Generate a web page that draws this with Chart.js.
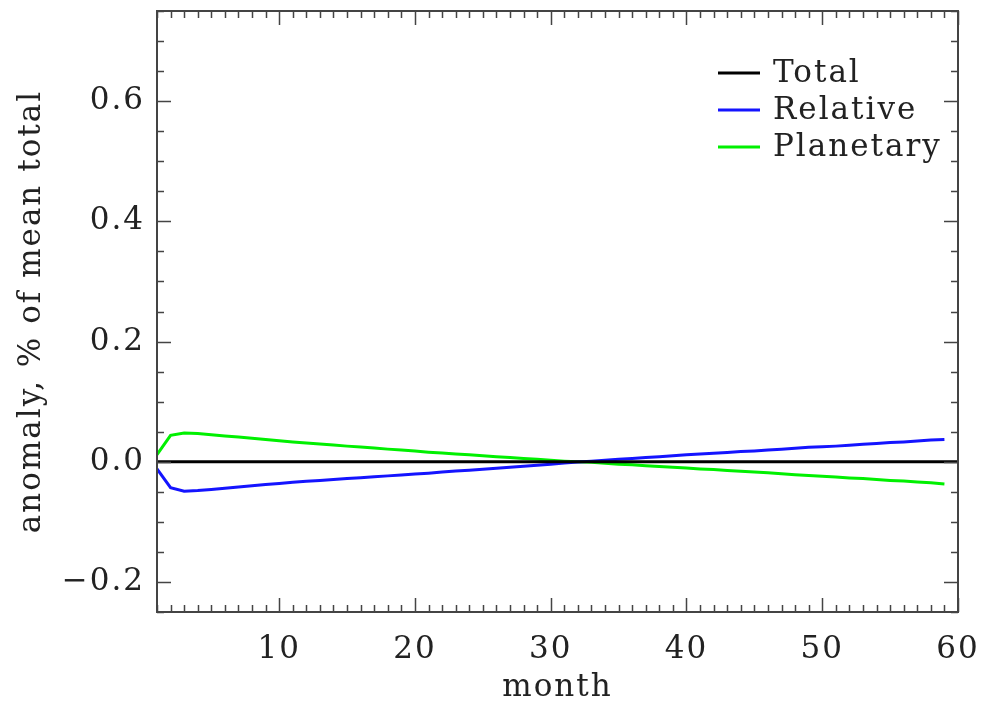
<!DOCTYPE html>
<html>
<head>
<meta charset="utf-8">
<script src="https://cdn.jsdelivr.net/npm/chart.js@4.4.0/dist/chart.umd.min.js"></script>
<style>
  html, body { margin: 0; padding: 0; background: #fff; }
  canvas { display: block; }
</style>
</head>
<body>
<canvas id="chart" width="981" height="704"></canvas>
<script>
// months 1..59 for the two components, total runs to 60
var months = [1,2,3,4,5,6,7,8,9,10,11,12,13,14,15,16,17,18,19,20,
  21,22,23,24,25,26,27,28,29,30,31,32,33,34,35,36,37,38,39,40,
  41,42,43,44,45,46,47,48,49,50,51,52,53,54,55,56,57,58,59,60];

var total = [0,0,0,0,0,0,0,0,0,0,0,0,0,0,0,0,0,0,0,0,
  0,0,0,0,0,0,0,0,0,0,0,0,0,0,0,0,0,0,0,0,
  0,0,0,0,0,0,0,0,0,0,0,0,0,0,0,0,0,0,0,0];

var relative = [-0.012,-0.043,-0.049,-0.048,-0.046,-0.044,-0.042,-0.040,-0.038,-0.036,
  -0.034,-0.0325,-0.031,-0.0295,-0.028,-0.0265,-0.025,-0.0235,-0.022,-0.0205,
  -0.019,-0.017,-0.0155,-0.014,-0.0125,-0.011,-0.009,-0.0075,-0.006,-0.004,
  -0.002,-0.0005,0.001,0.0025,0.004,0.0055,0.007,0.0085,0.010,0.0115,
  0.013,0.014,0.0155,0.017,0.018,0.0195,0.021,0.0225,0.024,0.025,
  0.026,0.0275,0.029,0.0305,0.032,0.033,0.0345,0.036,0.037];

var planetary = [0.012,0.044,0.048,0.047,0.045,0.043,0.041,0.039,0.037,0.035,
  0.033,0.031,0.0295,0.028,0.026,0.0245,0.023,0.021,0.0195,0.018,
  0.016,0.0145,0.013,0.0115,0.010,0.0085,0.007,0.0055,0.004,0.0025,
  0.001,0.0,-0.001,-0.0025,-0.004,-0.005,-0.0065,-0.008,-0.009,-0.0105,
  -0.012,-0.013,-0.0145,-0.016,-0.017,-0.0185,-0.020,-0.0215,-0.023,-0.024,
  -0.0255,-0.027,-0.028,-0.0295,-0.031,-0.032,-0.0335,-0.035,-0.037];

var xTicks = [10, 20, 30, 40, 50, 60];
var yTicks = [-0.2, 0.0, 0.2, 0.4, 0.6];

var FONT = 'DejaVu Serif';
var FSIZE = 31;
var SPACING = '2px';

function pts(ys) {
  return ys.map(function(y, i) { return {x: months[i], y: y}; });
}

// IDL style frame with inward ticks on all four sides
var frame = {
  id: 'frame',
  beforeLayout: function(chart) { chart.ctx.letterSpacing = SPACING; },
  beforeDraw: function(chart) { chart.ctx.letterSpacing = SPACING; },
  afterDraw: function(chart) {
    var ctx = chart.ctx, a = chart.chartArea;
    var xs = chart.scales.x, ys = chart.scales.y;
    ctx.save();
    ctx.strokeStyle = '#444';
    ctx.lineWidth = 2;
    ctx.strokeRect(a.left, a.top, a.right - a.left, a.bottom - a.top);
    ctx.lineWidth = 1.5;
    ctx.beginPath();
    for (var m = 1; m <= 60; m++) {
      var len = xTicks.indexOf(m) >= 0 ? 14 : 7;
      var px = Math.round(xs.getPixelForValue(m)) + 0.5;
      ctx.moveTo(px, a.bottom); ctx.lineTo(px, a.bottom - len);
      ctx.moveTo(px, a.top); ctx.lineTo(px, a.top + len);
    }
    for (var k = -5; k <= 15; k++) {
      var v = k * 0.05;
      var l2 = (k % 4 === 0) ? 14 : 7;
      var py = Math.round(ys.getPixelForValue(v)) + 0.5;
      ctx.moveTo(a.left, py); ctx.lineTo(a.left + l2, py);
      ctx.moveTo(a.right, py); ctx.lineTo(a.right - l2, py);
    }
    ctx.stroke();

    // legend
    ctx.font = FSIZE + 'px "' + FONT + '"';
    ctx.letterSpacing = SPACING;
    ctx.textBaseline = 'middle';
    ctx.textAlign = 'left';
    chart.data.datasets.forEach(function(ds, i) {
      var y = 73 + i * 37;
      ctx.strokeStyle = ds.borderColor;
      ctx.lineWidth = 3;
      ctx.beginPath();
      ctx.moveTo(718, y); ctx.lineTo(760, y);
      ctx.stroke();
      ctx.fillStyle = '#222';
      ctx.fillText(ds.label, 773, y + 1);
    });
    ctx.restore();
  }
};

new Chart(document.getElementById('chart'), {
  type: 'line',
  data: {
    datasets: [
      { label: 'Total', data: pts(total), borderColor: '#000', borderWidth: 3 },
      { label: 'Relative', data: pts(relative), borderColor: 'rgb(20,20,255)', borderWidth: 3 },
      { label: 'Planetary', data: pts(planetary), borderColor: 'rgb(0,240,0)', borderWidth: 3 }
    ]
  },
  options: {
    responsive: false,
    animation: false,
    devicePixelRatio: 1,
    layout: { padding: { left: 0, top: 11, right: 23, bottom: 0 } },
    elements: { point: { radius: 0 }, line: { tension: 0 } },
    plugins: { legend: { display: false }, tooltip: { enabled: false } },
    scales: {
      x: {
        type: 'linear',
        min: 1, max: 60,
        afterBuildTicks: function(s) { s.ticks = xTicks.map(function(v) { return {value: v}; }); },
        afterFit: function(s) { s.height = 92; s.paddingLeft = 0; s.paddingRight = 0; },
        grid: { display: false, drawTicks: false },
        border: { display: false },
        ticks: { padding: 19, color: '#222', font: { family: FONT, size: FSIZE }, maxRotation: 0 },
        title: { display: true, text: 'month', color: '#222', padding: { top: 0, bottom: -3 }, font: { family: FONT, size: FSIZE } }
      },
      y: {
        min: -0.25, max: 0.75,
        afterBuildTicks: function(s) { s.ticks = yTicks.map(function(v) { return {value: v}; }); },
        afterFit: function(s) { s.width = 157; s.paddingTop = 0; s.paddingBottom = 0; },
        grid: { display: false, drawTicks: false },
        border: { display: false },
        ticks: {
          padding: 12, color: '#222', font: { family: FONT, size: FSIZE },
          callback: function(v) { return v.toFixed(1).replace('-', '\u2212'); }
        },
        title: { display: true, text: 'anomaly, % of mean total', color: '#222',
          padding: { top: 13, bottom: 0 }, font: { family: FONT, size: FSIZE } }
      }
    }
  },
  plugins: [frame]
});
</script>
</body>
</html>
